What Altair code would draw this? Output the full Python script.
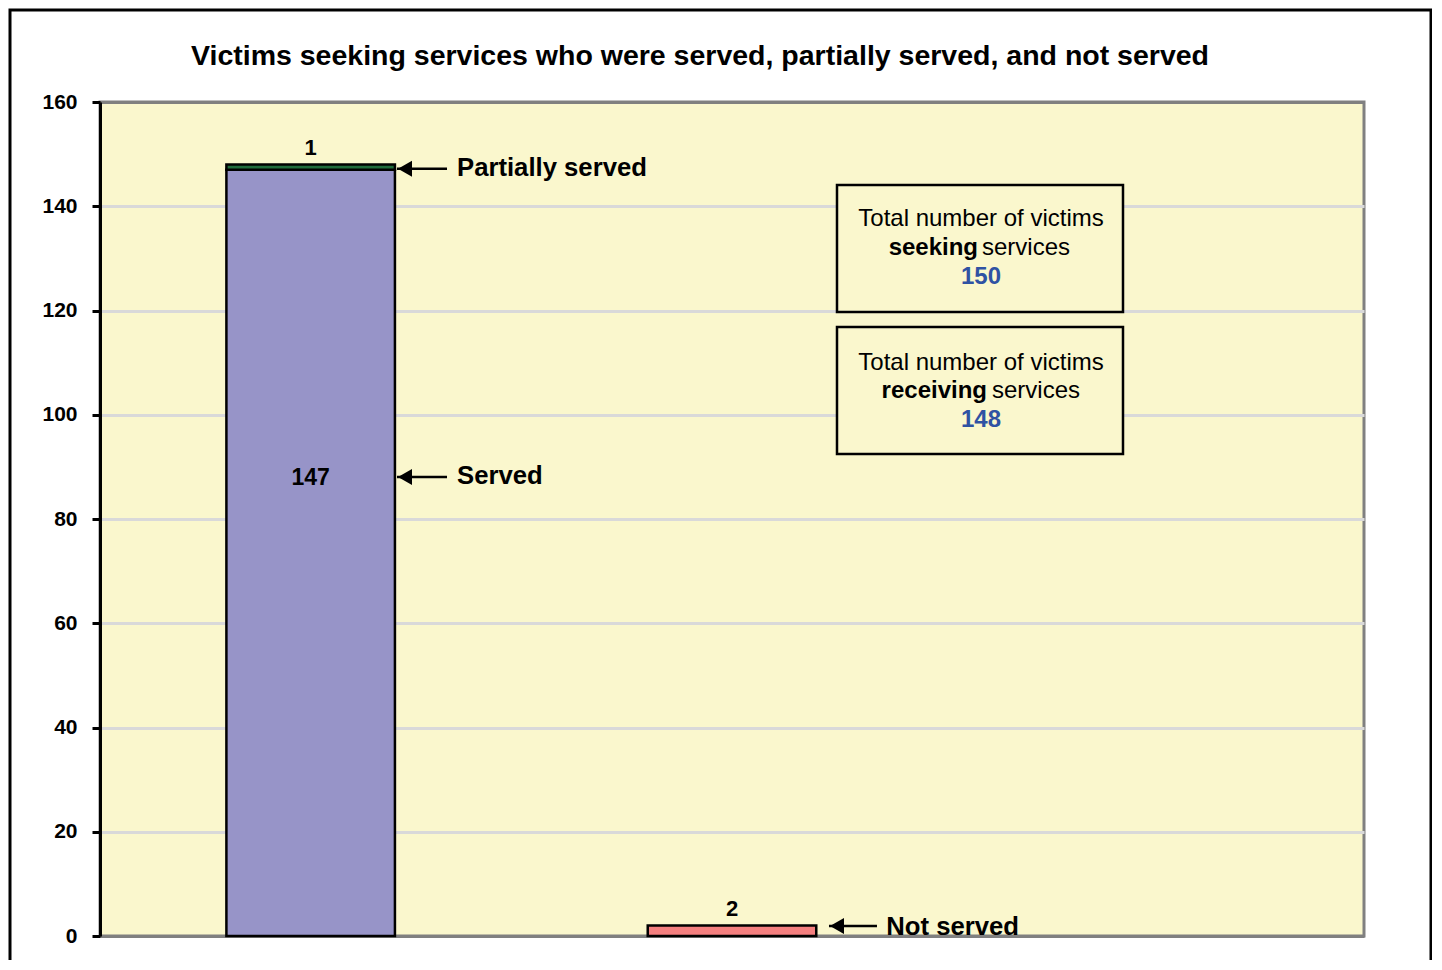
import altair as alt
import pandas as pd

# ---------------- data ----------------
title_text = "Victims seeking services who were served, partially served, and not served"
segments = ["Served", "Partially served", "Not served"]
segment_group = [0.5, 0.5, 1.5]          # category slot on the x axis (3 slots, third empty)
segment_values = [147, 1, 2]
segment_colors = ["#9794C8", "#1F6B3B", "#F47F7F"]
y_ticks = [0, 20, 40, 60, 80, 100, 120, 140, 160]

box_line1 = ["Total number of victims", "Total number of victims"]
box_bold_word = ["seeking", "receiving"]
box_regular_word = ["services", "services"]
box_totals = [150, 148]

# ---------------- layout constants (data coordinates) ----------------
FONT = "Liberation Sans"
BG = "#FAF7CD"
BAR_HALF = 0.2
box_x0, box_x1 = 1.7492, 2.428
box_y0 = [144.07, 116.83]
box_y1 = [119.71, 92.47]
box_cx = 2.091
box_line_y = [[137.55, 131.99, 126.43], [109.93, 104.56, 98.99]]
box_split_left = [2.0839, 2.1052]
box_split_right = [2.0934, 2.1171]

arrow_labels = ["Partially served", "Served", "Not served"]
arrow_tip_x = [0.7049, 0.7049, 1.7302]
arrow_end_x = [0.8236, 0.8236, 1.8441]
arrow_y = [147.2, 88.06, 1.92]
arrow_text_x = [0.8473, 0.8473, 1.8662]
arrow_text_y = [147.4, 88.3, 1.75]
inner_label_y = 87.8

# ---------------- tables ----------------
rows = []
tops = {}
for seg, g, v in zip(segments, segment_group, segment_values):
    base = tops.get(g, 0)
    rows.append({"segment": seg, "x0": g - BAR_HALF, "x1": g + BAR_HALF,
                 "xc": g, "y0": base, "y1": base + v, "value": v})
    tops[g] = base + v
bars_df = pd.DataFrame(rows)

xscale = alt.Scale(domain=[0, 3], nice=False, zero=False)
yscale = alt.Scale(domain=[0, 160], nice=False)

yaxis = alt.Axis(
    values=y_ticks, title=None, grid=True,
    gridColor=alt.condition("datum.value == 0 || datum.value == 160",
                            alt.value("#808080"), alt.value("#D9D9D9")),
    gridWidth=3, domainColor="black", domainWidth=3,
    tickColor="black", tickWidth=3, tickSize=8,
    labelFont=FONT, labelFontSize=21, labelFontWeight="bold", labelColor="black",
    labelPadding=15, labelOverlap=False, labelFlush=False,
)


def X(field):
    return alt.X(field, scale=xscale, axis=None)


def Y(field):
    return alt.Y(field, scale=yscale, axis=yaxis)


bars = alt.Chart(bars_df).mark_rect(stroke="black", strokeWidth=2.5).encode(
    x=X("x0:Q"), x2="x1:Q", y=Y("y0:Q"), y2="y1:Q",
    color=alt.Color("segment:N", scale=alt.Scale(domain=segments, range=segment_colors), legend=None),
)

top_labels = alt.Chart(bars_df[bars_df.segment != "Served"]).mark_text(
    font=FONT, fontSize=22, fontWeight="bold", color="black", baseline="bottom", dy=-5
).encode(x=X("xc:Q"), y=Y("y1:Q"), text="value:Q")

inner_df = bars_df[bars_df.segment == "Served"].assign(ly=inner_label_y)
inner_label = alt.Chart(inner_df).mark_text(
    font=FONT, fontSize=23, fontWeight="bold", color="black", baseline="middle"
).encode(x=X("xc:Q"), y=Y("ly:Q"), text="value:Q")

arrows_df = pd.DataFrame({"label": arrow_labels, "tip": arrow_tip_x, "end": arrow_end_x,
                          "ay": arrow_y, "tx": arrow_text_x, "ty": arrow_text_y})
arrow_lines = alt.Chart(arrows_df).mark_rule(color="black", strokeWidth=2.5).encode(
    x=X("tip:Q"), x2="end:Q", y=Y("ay:Q"),
)
arrow_heads = alt.Chart(arrows_df).mark_point(
    shape="triangle-left", filled=True, color="black", opacity=1, size=260, xOffset=8
).encode(x=X("tip:Q"), y=Y("ay:Q"))
arrow_text = alt.Chart(arrows_df).mark_text(
    font=FONT, fontSize=25.7, fontWeight="bold", color="black", align="left", baseline="middle"
).encode(x=X("tx:Q"), y=Y("ty:Q"), text="label:N")

boxes_df = pd.DataFrame({
    "bx0": [box_x0, box_x0], "bx1": [box_x1, box_x1], "by0": box_y0, "by1": box_y1,
    "cx": [box_cx, box_cx], "l1": box_line1, "bold": box_bold_word, "reg": box_regular_word,
    "total": box_totals, "sl": box_split_left, "sr": box_split_right,
    "y1": [r[0] for r in box_line_y], "y2": [r[1] for r in box_line_y], "y3": [r[2] for r in box_line_y],
})
box_rects = alt.Chart(boxes_df).mark_rect(fill=BG, stroke="black", strokeWidth=2.5).encode(
    x=X("bx0:Q"), x2="bx1:Q", y=Y("by0:Q"), y2="by1:Q",
)
box_t1 = alt.Chart(boxes_df).mark_text(font=FONT, fontSize=24, color="black", baseline="middle").encode(
    x=X("cx:Q"), y=Y("y1:Q"), text="l1:N")
box_t2a = alt.Chart(boxes_df).mark_text(font=FONT, fontSize=24, fontWeight="bold", color="black",
                                        align="right", baseline="middle").encode(
    x=X("sl:Q"), y=Y("y2:Q"), text="bold:N")
box_t2b = alt.Chart(boxes_df).mark_text(font=FONT, fontSize=24, color="black",
                                        align="left", baseline="middle").encode(
    x=X("sr:Q"), y=Y("y2:Q"), text="reg:N")
box_t3 = alt.Chart(boxes_df).mark_text(font=FONT, fontSize=24, fontWeight="bold", color="#2F52A3",
                                       baseline="middle").encode(
    x=X("cx:Q"), y=Y("y3:Q"), text="total:Q")

title_mark = alt.Chart(pd.DataFrame({"t": [title_text]})).mark_text(
    font=FONT, fontSize=28.5, fontWeight="bold", color="black", baseline="middle"
).encode(x=alt.value(600), y=alt.value(-46), text="t:N")

outer_border = alt.Chart(pd.DataFrame({"t": [0]})).mark_rect(
    filled=False, stroke="black", strokeWidth=3
).encode(x=alt.value(-90), x2=alt.value(1331), y=alt.value(-92), y2=alt.value(900))

chart = alt.layer(
    bars, top_labels, inner_label, arrow_lines, arrow_heads, arrow_text,
    box_rects, box_t1, box_t2a, box_t2b, box_t3, title_mark, outer_border
).properties(
    width=1264, height=834,
    autosize=alt.AutoSizeParams(type="none"),
    padding={"left": 92, "top": 94, "right": 68, "bottom": 24},
    background="white",
).configure_view(
    fill=BG, stroke="#808080", strokeWidth=3
)

chart.save("out.html", embed_options={"renderer": "svg", "actions": False})
